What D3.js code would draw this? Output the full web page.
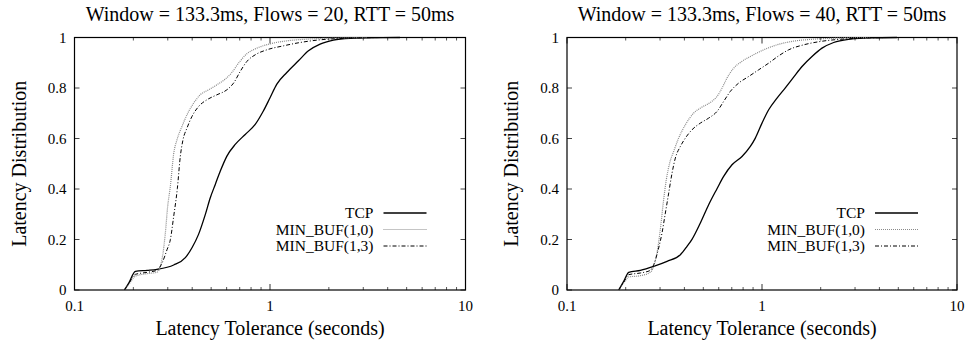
<!DOCTYPE html>
<html><head><meta charset="utf-8">
<script src="https://cdn.jsdelivr.net/npm/d3@7"></script>
<style>body{margin:0;background:#fff}svg{display:block}</style>
</head><body><svg id="c" width="967" height="343" font-family="'Liberation Serif', 'Times New Roman', serif"></svg>
<script>
const titles = ["Window = 133.3ms, Flows = 20, RTT = 50ms", "Window = 133.3ms, Flows = 40, RTT = 50ms"];
const seriesNames = ["TCP", "MIN_BUF(1,0)", "MIN_BUF(1,3)"];
const xTicks = [0.1, 1, 10];
const yTicks = [0, 0.2, 0.4, 0.6, 0.8, 1];

// Flows = 20
const tcpX20 = [0.180,0.1894,0.2049,0.235,0.264,0.3217,0.369,0.399,0.431,0.467,0.495,0.525,0.557,0.602,0.664,0.747,0.840,0.926,1.002,1.084,1.219,1.398,1.573,1.804,2.11,2.57,3.12,4.62];
const tcpY20 = [0,0.0277,0.0739,0.0778,0.0818,0.0989,0.128,0.1675,0.2203,0.2995,0.3654,0.4182,0.471,0.5303,0.5765,0.6161,0.6557,0.7098,0.7625,0.8153,0.8615,0.9077,0.9472,0.9736,0.9894,0.997,0.999,1];
const mb10X20 = [0.180,0.1894,0.2049,0.235,0.264,0.2749,0.2837,0.2915,0.2996,0.3092,0.3216,0.3344,0.3546,0.3761,0.4068,0.4399,0.4853,0.5351,0.5902,0.6383,0.6903,0.7613,0.8567,1.002,1.219,1.542,2.11,3.12];
const mb10Y20 = [0,0.0211,0.0554,0.0646,0.0699,0.0937,0.1464,0.2256,0.3311,0.4103,0.5396,0.595,0.6478,0.6939,0.7401,0.7731,0.7929,0.8127,0.8351,0.8615,0.8984,0.9354,0.9578,0.9749,0.9868,0.9934,0.9974,1];
const mb13X20 = [0.180,0.1894,0.2049,0.235,0.264,0.2804,0.2973,0.3092,0.3216,0.3357,0.3477,0.3589,0.3761,0.3989,0.4314,0.4757,0.5351,0.6019,0.6509,0.704,0.7613,0.8399,0.9634,1.172,1.426,1.804,2.57,3.80];
const mb13Y20 = [0,0.0251,0.062,0.0699,0.0778,0.1069,0.1596,0.1992,0.2916,0.4011,0.529,0.595,0.6412,0.6873,0.7269,0.7533,0.7731,0.7929,0.8193,0.8654,0.905,0.9314,0.9512,0.967,0.9802,0.9908,0.9974,1];

// Flows = 40
const tcpX40 = [0.1841,0.1953,0.2072,0.2377,0.2783,0.3258,0.3814,0.4125,0.4375,0.4829,0.5327,0.5878,0.6358,0.7017,0.7896,0.8714,0.9243,1.0,1.082,1.194,1.317,1.453,1.604,1.805,2.031,2.331,2.838,3.594,4.923];
const tcpY40 = [0,0.0343,0.0699,0.0778,0.0937,0.1135,0.1398,0.1728,0.2005,0.2652,0.3377,0.4011,0.4499,0.496,0.529,0.5686,0.6016,0.6609,0.7137,0.7599,0.8008,0.843,0.8852,0.9248,0.9578,0.9802,0.9934,0.9987,1];
const mb10X40 = [0.1841,0.1953,0.2072,0.2377,0.2675,0.2783,0.2893,0.3009,0.3130,0.3231,0.3360,0.3524,0.3737,0.4045,0.4462,0.4924,0.5433,0.5878,0.6236,0.6614,0.7153,0.7741,0.8714,1.020,1.194,1.453,1.841,2.424,3.594];
const mb10Y40 = [0,0.0277,0.0515,0.0567,0.0699,0.0937,0.1464,0.2388,0.3575,0.4367,0.5026,0.5488,0.6016,0.6544,0.7005,0.7243,0.7427,0.7665,0.7995,0.8391,0.8786,0.9011,0.9248,0.9512,0.971,0.9855,0.9934,0.9974,1];
const mb13X40 = [0.1841,0.1953,0.2072,0.2377,0.2675,0.2783,0.2951,0.3070,0.3194,0.3323,0.3457,0.3594,0.3814,0.4045,0.4375,0.4829,0.5327,0.5878,0.6358,0.6877,0.7589,0.8543,0.9613,1.082,1.218,1.370,1.636,1.991,2.729,4.375];
const mb13Y40 = [0,0.0303,0.0607,0.0673,0.0778,0.1003,0.1662,0.2256,0.3047,0.3839,0.4631,0.5224,0.5686,0.6016,0.6346,0.6609,0.6807,0.7071,0.7467,0.7863,0.8193,0.8456,0.872,0.8984,0.9274,0.9512,0.971,0.9842,0.9947,1];

const panels = [
  {title: titles[0], series: [[tcpX20,tcpY20],[mb10X20,mb10Y20],[mb13X20,mb13Y20]], left: 74.5, right: 465.5},
  {title: titles[1], series: [[tcpX40,tcpY40],[mb10X40,mb10Y40],[mb13X40,mb13Y40]], left: 567, right: 957}
];
const styles = [
  {stroke: "#000", width: 1.3, dash: null},
  {stroke: "#8a8a8a", width: 1.2, dash: "1,1"},
  {stroke: "#000", width: 1, dash: "4,2,1,2"}
];
const plotTop = 37.5, plotBottom = 290;
const svg = d3.select("#c");

panels.forEach(p => {
  const x = d3.scaleLog().domain([0.1, 10]).range([p.left, p.right]);
  const y = d3.scaleLinear().domain([0, 1]).range([plotBottom, plotTop]);
  const g = svg.append("g");
  const minor = [];
  [0.1, 1].forEach(d => { for (let k = 2; k <= 9; k++) minor.push(d * k); });
  g.selectAll(".mb").data(minor).join("line")
    .attr("x1", d => x(d)).attr("x2", d => x(d)).attr("y1", plotBottom).attr("y2", plotBottom - 3)
    .attr("stroke", "#555").attr("stroke-width", 1);
  g.selectAll(".mt").data(minor).join("line")
    .attr("x1", d => x(d)).attr("x2", d => x(d)).attr("y1", plotTop).attr("y2", plotTop + 3)
    .attr("stroke", "#555").attr("stroke-width", 1);
  g.selectAll(".xb").data(xTicks).join("line")
    .attr("x1", d => x(d)).attr("x2", d => x(d)).attr("y1", plotBottom).attr("y2", plotBottom - 6)
    .attr("stroke", "#333").attr("stroke-width", 1);
  g.selectAll(".xt").data(xTicks).join("line")
    .attr("x1", d => x(d)).attr("x2", d => x(d)).attr("y1", plotTop).attr("y2", plotTop + 6)
    .attr("stroke", "#333").attr("stroke-width", 1);
  g.selectAll(".yl").data(yTicks).join("line")
    .attr("x1", p.left).attr("x2", p.left + 5).attr("y1", d => y(d)).attr("y2", d => y(d))
    .attr("stroke", "#444").attr("stroke-width", 1);
  g.selectAll(".yr").data(yTicks).join("line")
    .attr("x1", p.right).attr("x2", p.right - 5).attr("y1", d => y(d)).attr("y2", d => y(d))
    .attr("stroke", "#444").attr("stroke-width", 1);
  g.selectAll(".xlab").data(xTicks).join("text")
    .attr("x", d => x(d)).attr("y", plotBottom + 16).attr("dy", "0.35em")
    .attr("text-anchor", "middle").attr("font-size", 15).text(d => d3.format("~g")(d));
  g.selectAll(".ylab").data(yTicks).join("text")
    .attr("x", p.left - 8).attr("y", d => y(d)).attr("dy", "0.35em")
    .attr("text-anchor", "end").attr("font-size", 15).text(d => d3.format("~g")(d));
  g.append("rect").attr("x", p.left).attr("y", plotTop).attr("width", p.right - p.left).attr("height", plotBottom - plotTop)
    .attr("fill", "none").attr("stroke", "#000").attr("stroke-width", 1.2);
  const line = d3.line().x(d => x(d[0])).y(d => y(d[1])).curve(d3.curveMonotoneX);
  p.series.forEach((s, i) => {
    const pts = s[0].map((v, j) => [v, s[1][j]]);
    g.append("path").datum(pts).attr("d", line).attr("fill", "none")
      .attr("stroke", styles[i].stroke).attr("stroke-width", styles[i].width)
      .attr("stroke-dasharray", styles[i].dash);
  });
  const ly = [213, 229.5, 246];
  seriesNames.forEach((n, i) => {
    g.append("text").attr("x", p.right - 92).attr("y", ly[i]).attr("dy", "0.35em")
      .attr("text-anchor", "end").attr("font-size", 15.5).text(n);
    g.append("line").attr("x1", p.right - 82).attr("x2", p.right - 39).attr("y1", ly[i]).attr("y2", ly[i])
      .attr("stroke", styles[i].stroke).attr("stroke-width", styles[i].width)
      .attr("stroke-dasharray", styles[i].dash);
  });
  const cx = (p.left + p.right) / 2;
  g.append("text").attr("x", cx).attr("y", 14).attr("dy", "0.35em").attr("text-anchor", "middle")
    .attr("font-size", 20).text(p.title);
  g.append("text").attr("x", cx).attr("y", 328).attr("dy", "0.35em").attr("text-anchor", "middle")
    .attr("font-size", 20).text("Latency Tolerance (seconds)");
  g.append("text").attr("transform", `translate(${p.left - 56},${(plotTop + plotBottom) / 2}) rotate(-90)`)
    .attr("dy", "0.35em").attr("text-anchor", "middle").attr("font-size", 20).text("Latency Distribution");
});
</script></body></html>
